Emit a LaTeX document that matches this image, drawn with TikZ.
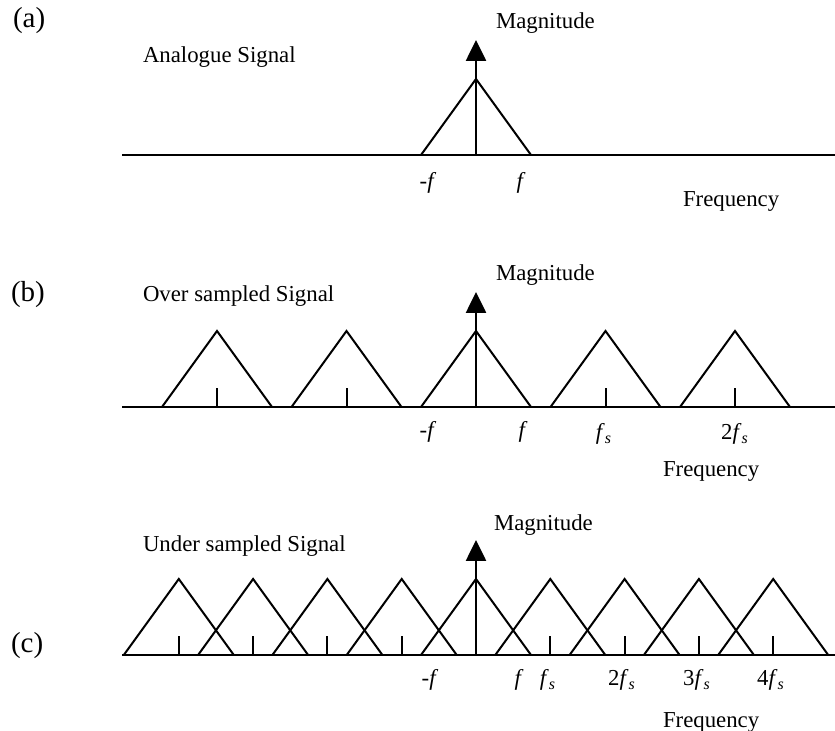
\documentclass[tikz,border=0pt]{standalone}
\usepackage{fontspec}
\setmainfont{Liberation Serif}
\usetikzlibrary{arrows.meta}
\newcommand{\fsamp}{\textit{f}\textsubscript{\textit{s}}}

\begin{document}
\begin{tikzpicture}[x=0.5pt,y=0.5pt,line width=1pt,
    txt/.style={font=\fontsize{11.4}{13}\selectfont,inner sep=0pt},
    tck/.style={txt,anchor=base},
    tag/.style={font=\fontsize{14.5}{17}\selectfont,inner sep=0pt,anchor=base west},
    magarrow/.style={line width=1.3pt,-{Triangle[length=10.5pt,width=10pt]}}]
  \useasboundingbox (0,0) rectangle (835,731);

  % (a) analogue spectrum
  \begin{scope}[shift={(476,576)}]
    \coordinate (al) at (-354,0); \coordinate (ar) at (359,0);
    \coordinate (a0) at (0,0);    \coordinate (atop) at (0,115);
    \draw (al) -- (ar);
    \draw (-55,0) -- (0,76) -- (55,0);
    \draw[magarrow] (a0) -- (atop);
    \node[txt,anchor=base west] (amag) at ([shift={(19,11)}]atop) {Magnitude};
    \node[tag] (atag) at (-464,127) {(a)};
    \node[txt,anchor=base west] (atitle) at (-334,92) {Analogue Signal};
    \node[tck] (amf) at (-48,-34) {-\textit{f}};
    \node[tck] (af) at (45,-34) {\textit{f}};
    \node[txt,anchor=base west] (afreq) at (206,-52) {Frequency};
  \end{scope}

  % (b) over sampled
  \begin{scope}[shift={(476,324)}]
    \coordinate (bl) at (-354,0); \coordinate (br) at (359,0);
    \coordinate (b0) at (0,0);    \coordinate (btop) at (0,115);
    \draw (bl) -- (br);
    \foreach \k in {-2,...,2}
      \draw ({\k*129.5-55},0) -- ({\k*129.5},76) -- ({\k*129.5+55},0);
    \foreach \k in {-2,-1,1,2}
      \draw ({\k*129.5},0) -- ({\k*129.5},19);
    \draw[magarrow] (b0) -- (btop);
    \node[txt,anchor=base west] (bmag) at ([shift={(19,11)}]btop) {Magnitude};
    \node[tag] (btag) at (-466,105) {(b)};
    \node[txt,anchor=base west] (btitle) at (-334,105) {Over sampled Signal};
    \node[tck] (bmf) at (-48,-31) {-\textit{f}};
    \node[tck] (bf) at (47,-31) {\textit{f}};
    \node[tck] (bfs) at (128,-33) {\fsamp};
    \node[tck] (b2fs) at (259,-33) {2\fsamp};
    \node[txt,anchor=base west] (bfreq) at (186,-70) {Frequency};
  \end{scope}

  % (c) under sampled
  \begin{scope}[shift={(476,76)}]
    \coordinate (cl) at (-354,0); \coordinate (cr) at (359,0);
    \coordinate (c0) at (0,0);    \coordinate (ctop) at (0,115);
    \draw (cl) -- (cr);
    \foreach \k in {-4,...,4}
      \draw ({\k*74.3-55},0) -- ({\k*74.3},76) -- ({\k*74.3+55},0);
    \foreach \k in {-4,...,-1,1,2,3,4}
      \draw ({\k*74.3},0) -- ({\k*74.3},19);
    \draw[magarrow] (c0) -- (ctop);
    \node[txt,anchor=base west] (cmag) at ([shift={(17,9)}]ctop) {Magnitude};
    \node[tag] (ctag) at (-466,2) {(c)};
    \node[txt,anchor=base west] (ctitle) at (-334,103) {Under sampled Signal};
    \node[tck] (cmf) at (-46,-31) {-\textit{f}};
    \node[tck] (cf) at (43,-31) {\textit{f}};
    \node[tck] (cfs) at (72,-31) {\fsamp};
    \node[tck] (c2fs) at (146,-31) {2\fsamp};
    \node[tck] (c3fs) at (221,-31) {3\fsamp};
    \node[tck] (c4fs) at (295,-31) {4\fsamp};
    \node[txt,anchor=base west] (cfreq) at (186,-73) {Frequency};
  \end{scope}
\end{tikzpicture}
\end{document}
